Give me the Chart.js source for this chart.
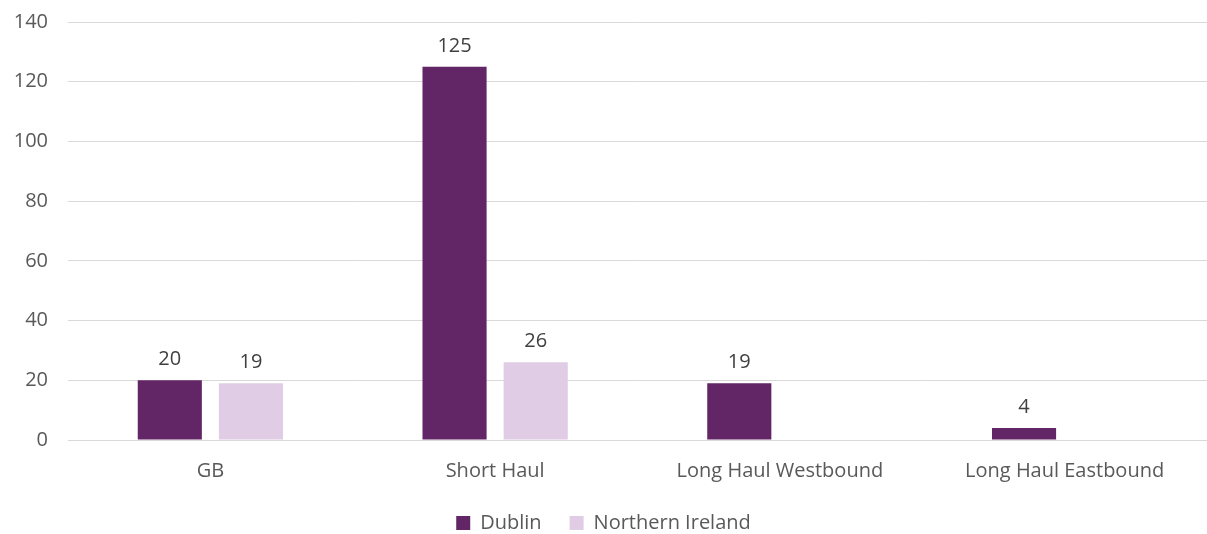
<!DOCTYPE html>
<html>
<head>
<meta charset="utf-8">
<script src="https://cdn.jsdelivr.net/npm/chart.js@4"></script>
<style>
  body { margin: 0; background: #fff; overflow: hidden; }
  #wrap { position: relative; width: 1207px; height: 534px; overflow: hidden; }
  #inner { position: absolute; left: 0; top: -10px; width: 1207px; height: 553px; }
</style>
</head>
<body>
<div id="wrap"><div id="inner"><canvas id="routeChart"></canvas></div></div>
<script>
const categories = ['GB', 'Short Haul', 'Long Haul Westbound', 'Long Haul Eastbound'];
const dublin = [20, 125, 19, 4];
const northernIreland = [19, 26, null, null];
const yTicks = [0, 20, 40, 60, 80, 100, 120, 140];

const FONT = '"Open Sans", sans-serif';

// draws the value above each bar
const barLabels = {
  id: 'barLabels',
  afterDatasetsDraw(chart) {
    const ctx = chart.ctx;
    ctx.save();
    ctx.font = '20px ' + FONT;
    ctx.fillStyle = '#404040';
    ctx.textAlign = 'center';
    ctx.textBaseline = 'alphabetic';
    chart.data.datasets.forEach((ds, i) => {
      chart.getDatasetMeta(i).data.forEach((bar, j) => {
        if (ds.data[j] == null) return;
        ctx.fillText(ds.data[j], bar.x, bar.y - 15);
      });
    });
    ctx.restore();
  }
};

new Chart(document.getElementById('routeChart'), {
  type: 'bar',
  data: {
    labels: categories,
    datasets: [
      { label: 'Dublin', data: dublin, backgroundColor: '#622565' },
      { label: 'Northern Ireland', data: northernIreland, backgroundColor: '#e0cce4' }
    ]
  },
  options: {
    responsive: true,
    maintainAspectRatio: false,
    animation: false,
    categoryPercentage: 0.57,
    barPercentage: 0.79,
    layout: { padding: { top: 0, right: 0, left: 0, bottom: 0 } },
    plugins: {
      tooltip: { enabled: false },
      legend: {
        position: 'bottom',
        labels: {
          boxWidth: 14,
          boxHeight: 14,
          padding: 8,
          color: '#595959',
          font: { size: 20, family: FONT },
          // a bit more room between the two entries
          generateLabels: chart => {
            const items = Chart.defaults.plugins.legend.labels.generateLabels(chart);
            items.forEach((it, i) => { if (i < items.length - 1) it.text += '\u2002\u2002'; });
            return items;
          }
        }
      }
    },
    scales: {
      x: {
        grid: { display: false },
        border: { color: '#d9d9d9' },
        ticks: { color: '#595959', padding: 11, font: { size: 20, family: FONT } },
        afterFit: axis => { axis.height += 11; }
      },
      y: {
        min: 0,
        max: 140,
        afterBuildTicks: axis => { axis.ticks = yTicks.map(v => ({ value: v })); },
        afterFit: axis => { axis.width = 68; },
        grid: { color: '#d9d9d9', drawTicks: false },
        border: { display: false },
        ticks: { color: '#595959', padding: 20, font: { size: 20, family: FONT } }
      }
    }
  },
  plugins: [barLabels]
});
</script>
</body>
</html>
